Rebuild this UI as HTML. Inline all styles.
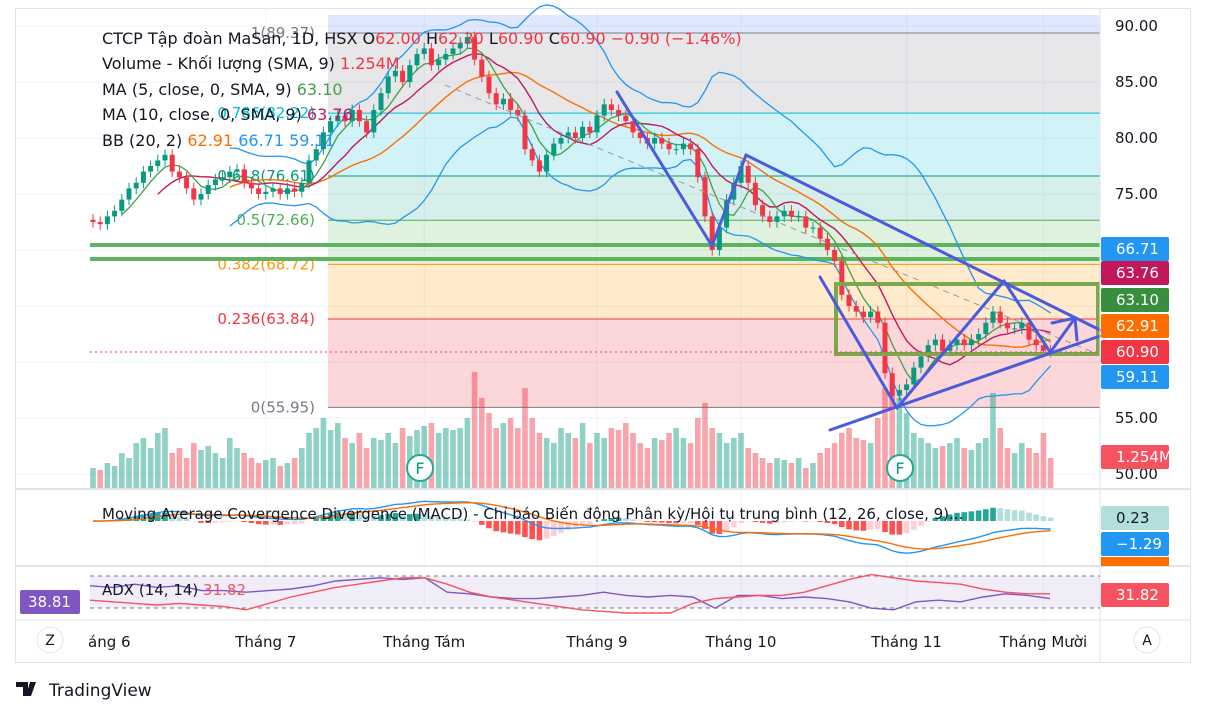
<!DOCTYPE html>
<html><head><meta charset="utf-8">
<style>
body{margin:0;background:#fff;font-family:"DejaVu Sans","Noto Sans CJK SC",sans-serif;}
svg{display:block}
text{font-family:"DejaVu Sans","Noto Sans CJK SC",sans-serif;}
</style></head>
<body>
<svg id="c" width="1205" height="715" viewBox="0 0 1205 715"></svg>
<script>
const closes=[72.5,72.3,73,73.5,74.5,75.5,76,77,77.5,78,78.5,77,76.5,75.5,74.5,75,75.8,76.3,76.5,77,77.2,76,75.5,75,75.2,75.5,75,75.5,75.2,76,78,79,80.5,81.5,82,81.5,82.5,81.5,80.5,82.5,84,85.5,86,85,86.5,87.5,88,86.5,87,87.5,88,88.5,89,87,85.5,84,83,83.5,82.5,82,79,78,77,78.5,79.5,80,80.5,80,81,80.5,82,83,82.5,82,81.5,80.5,80,79.5,80,79.5,79,79,79.5,79,76.5,73,70,72,74.5,76,77.5,76,74,73,72.5,73,73.5,73,73,72,72,71,70,69,66,65,64.5,64,64.5,63.5,59,57,57.5,58,59.5,60.5,61.5,62,61,61.5,62,61.5,62,62.5,63.5,64.5,63.5,63,63,63.5,62,61.5,61,60.9];
const volumes=[20,18,25,22,35,30,45,50,40,55,60,35,40,30,45,38,42,35,30,50,40,35,30,25,28,30,22,25,30,40,55,60,70,58,65,50,45,55,40,50,48,55,45,60,52,58,62,65,55,60,58,60,70,116,90,75,60,65,70,60,100,70,55,50,45,60,55,50,65,45,55,50,60,58,65,55,45,40,50,48,55,60,50,45,70,85,60,55,45,50,55,40,35,30,25,30,28,25,30,20,25,35,40,45,55,60,50,48,45,70,100,95,90,75,55,50,45,40,42,45,50,40,38,45,50,95,60,40,35,45,40,35,55,30];
const months=["Tháng 7","Tháng Tám","Tháng 9","Tháng 10","Tháng 11","Tháng Mười"];
const monthIdx=[24,46,70,90,113,132];
const priceTicks=[90,85,80,75,55,50];
const fibLevels=[89.37,82.22,76.61,72.66,68.72,63.84,55.95];
const fibNames=["1","0.786","0.618","0.5","0.382","0.236","0"];
const adxVals=[28,27,26,25,26,25,24,22,26,30,33,36,38,40,42,42,38,33,30,28,26,24,22,21,20,20,20,26,29,30,31,31,33,37,41,44,42,40,39,38,35,33,32,32];
const diVals=[37,36,38,36,37,34,34,33,34,35,37,40,41,42,41,42,33,32,30,29,29,30,31,33,31,30,31,30,23,31,31,29,30,29,27,23,22,27,28,27,30,32,31,29];

const S=document.getElementById('c');const NS='http://www.w3.org/2000/svg';
function el(t,a,p){const e=document.createElementNS(NS,t);for(const k in a)e.setAttribute(k,a[k]);(p||S).appendChild(e);return e;}
const X=i=>93+7.2*i;
const Y=p=>26+(90-p)*11.2;
const R=1100;
const FS=15, LFS=16;
let f=el('rect',{x:15.5,y:8.5,width:1175,height:654,fill:'#fff',stroke:'#e0e3eb'});

for(const p of [90,85,80,75,70,65,60,55,50]){el('line',{x1:16,x2:R,y1:Y(p),y2:Y(p),stroke:'#f0f3fa'});}
monthIdx.forEach(i=>el('line',{x1:X(i),x2:X(i),y1:9,y2:620,stroke:'#f0f3fa'}));
const fibFill=['rgba(120,123,134,0.18)','rgba(0,188,212,0.18)','rgba(8,153,129,0.16)','rgba(76,175,80,0.18)','rgba(255,152,0,0.2)','rgba(242,54,69,0.2)'];
const fibCol=['#787b86','#00bcd4','#089981','#4caf50','#ff9800','#f23645','#787b86'];
el('rect',{x:328,y:15,width:R-328,height:Y(89.37)-15,fill:'rgba(41,98,255,0.15)'});
for(let k=0;k<6;k++){let b=el('rect',{x:328,y:Y(fibLevels[k]),width:R-328,height:Y(fibLevels[k+1])-Y(fibLevels[k]),fill:fibFill[k]});
}
fibLevels.forEach((v,k)=>{el('line',{x1:328,x2:R,y1:Y(v),y2:Y(v),stroke:fibCol[k],'stroke-width':1});
let t=el('text',{x:315,y:Y(v)+5,'text-anchor':'end','font-size':FS,fill:fibCol[k]});t.textContent=fibNames[k]+'('+v.toFixed(2)+')';
});
el('line',{x1:90,x2:R,y1:245,y2:245,stroke:'#5fb35f','stroke-width':4});
el('line',{x1:90,x2:R,y1:259,y2:259,stroke:'#5fb35f','stroke-width':4});
volumes.forEach((v,i)=>{const up=i==0||closes[i]>=closes[i-1];
let b=el('rect',{x:X(i)-2.8,y:488-v,width:5.6,height:v,fill:up?'rgba(8,153,129,0.45)':'rgba(242,54,69,0.45)'});
});
function sma(a,n){return a.map((_,i)=>i<n-1?null:a.slice(i-n+1,i+1).reduce((s,x)=>s+x,0)/n);}
function ema(a,n){let k=2/(n+1),r=[],e=a[0];a.forEach((x,i)=>{e=i?x*k+e*(1-k):x;r.push(e)});return r;}
const ma5=sma(closes,5),ma10=sma(closes,10),mid=sma(closes,20);
const sd=closes.map((_,i)=>{if(i<19)return null;const s=closes.slice(i-19,i+1),m=mid[i];return Math.sqrt(s.reduce((a,x)=>a+(x-m)**2,0)/20);});
function poly(arr,fy,col,w,name){let pts=[];arr.forEach((v,i)=>{if(v!=null)pts.push(X(i)+','+fy(v))});
let p=el('polyline',{points:pts.join(' '),fill:'none',stroke:col,'stroke-width':w||1.3});return p;}
poly(mid.map((m,i)=>m==null?null:m+2*sd[i]),Y,'#2196f3',1.3,'bb-upper');
poly(mid.map((m,i)=>m==null?null:m-2*sd[i]),Y,'#2196f3',1.3,'bb-lower');
poly(mid,Y,'#ff6d00',1.4,'bb-basis');
poly(ma10,Y,'#c2185b',1.4,'ma10-line');
poly(ma5,Y,'#43a047',1.3,'ma5-line');
closes.forEach((c,i)=>{const o=i?closes[i-1]:c+0.2,up=c>=o,col=up?'#089981':'#f23645';
const hi=Math.max(o,c)+0.5,lo=Math.min(o,c)-0.5;
el('line',{x1:X(i),x2:X(i),y1:Y(hi),y2:Y(lo),stroke:col});
let b=el('rect',{x:X(i)-2.5,y:Y(Math.max(o,c)),width:5,height:Math.max(1,Math.abs(Y(o)-Y(c))),fill:col});
});
el('line',{x1:445,y1:85,x2:1100,y2:355,stroke:'#9598a1','stroke-dasharray':'6 5'});
el('rect',{x:836,y:284,width:262,height:70,fill:'none',stroke:'#7ba84a','stroke-width':4});
el('line',{x1:90,x2:R,y1:352,y2:352,stroke:'#f23645','stroke-dasharray':'2 3'});
const B='#4a5bdc';
[[617,92,712,246],[712,246,746,155],[746,155,1100,330],[820,277,897,408],[897,408,1004,281],[1004,281,1050,352],[830,430,1100,336],[1052,350,1075,318],[1052,323,1075,318],[1075,318,1077,340]].forEach((s,k)=>{
let l=el('line',{x1:s[0],y1:s[1],x2:s[2],y2:s[3],stroke:B,'stroke-width':3,'stroke-linecap':'round'});
});
[420,900].forEach(x=>{let g=el('g',{});
el('circle',{cx:x,cy:468,r:13,fill:'#fff',stroke:'#22ab94','stroke-width':2},g);
let t=el('text',{x:x,y:474,'text-anchor':'middle','font-size':16,fill:'#089981'},g);t.textContent='F';});
el('line',{x1:16,x2:1190,y1:489,y2:489,stroke:'#e0e3eb','stroke-width':2});
el('line',{x1:16,x2:1190,y1:566,y2:566,stroke:'#e0e3eb','stroke-width':2});
el('line',{x1:16,x2:1190,y1:620,y2:620,stroke:'#e0e3eb'});
el('line',{x1:R,x2:R,y1:9,y2:662,stroke:'#e0e3eb'});
const e12=ema(closes,12),e26=ema(closes,26),macd=e12.map((v,i)=>v-e26[i]),sig=ema(macd,9);
const MY=v=>521-v*7, HY=v=>521-v*14;
macd.forEach((v,i)=>{const h=v-sig[i];const up=h>=0,rising=i&&Math.abs(h)>Math.abs(macd[i-1]-sig[i-1]);
const col=up?(rising?'#26a69a':'#b2dfdb'):(rising?'#ff5252':'#ffcdd2');
const hy=Math.min(564,Math.max(492,HY(h)));
let b=el('rect',{x:X(i)-2.8,y:Math.min(hy,HY(0)),width:5.6,height:Math.abs(hy-HY(0)),fill:col});
});
poly(macd,v=>Math.min(564,Math.max(492,MY(v))),'#2196f3',1.4,'macd-line');
poly(sig,v=>Math.min(564,Math.max(492,MY(v))),'#ff6d00',1.4,'signal-line');
el('rect',{x:90,y:576,width:R-90,height:32,fill:'rgba(126,87,194,0.1)'});
el('line',{x1:90,x2:R,y1:576,y2:576,stroke:'#787b86','stroke-dasharray':'4 4'});
el('line',{x1:90,x2:R,y1:608,y2:608,stroke:'#787b86','stroke-dasharray':'4 4'});
const AY=v=>645-v*1.6,AX=i=>90+i*(1050-90)/(adxVals.length-1);
function apoly(a,col,name){let p=el('polyline',{points:a.map((v,i)=>AX(i)+','+AY(v)).join(' '),fill:'none',stroke:col,'stroke-width':1.4});}
apoly(diVals,'#7e57c2','di-line');apoly(adxVals,'#f7525f','adx-line');
function txt(x,y,s,col,size,anchor,name){let t=el('text',{x:x,y:y,'font-size':size||FS,fill:col||'#131722','text-anchor':anchor||'start'});t.textContent=s;
return t;}
function leg(y,parts,name){let t=el('text',{x:102,y:y,'font-size':LFS});
parts.forEach(p=>{let s=el('tspan',{fill:p[1]},t);s.textContent=p[0];});}
leg(44,[['CTCP Tập đoàn MaSan, 1D, HSX  O','#131722'],['62.00','#f23645'],['  H','#131722'],['62.30','#f23645'],['  L','#131722'],['60.90','#f23645'],['  C','#131722'],['60.90  −0.90 (−1.46%)','#f23645']],'legend-title');
leg(69,[['Volume - Khối lượng (SMA, 9)  ','#131722'],['1.254M','#f23645']],'legend-volume');
leg(95,[['MA (5, close, 0, SMA, 9)  ','#131722'],['63.10','#43a047']],'legend-ma5');
leg(120,[['MA (10, close, 0, SMA, 9)  ','#131722'],['63.76','#c2185b']],'legend-ma10');
leg(146,[['BB (20, 2)  ','#131722'],['62.91','#ff6d00'],['  66.71  59.11','#2196f3']],'legend-bb');
txt(102,519,'Moving Average Covergence Divergence (MACD) - Chỉ báo Biến động Phân kỳ/Hội tụ trung bình (12, 26, close, 9)...','#131722',FS,'start','macd-legend');
let al=el('text',{x:102,y:595,'font-size':FS});
el('tspan',{fill:'#131722'},al).textContent='ADX (14, 14)  ';el('tspan',{fill:'#f7525f'},al).textContent='31.82';
priceTicks.forEach(p=>txt(1115,Y(p)+5,p.toFixed(2),'#131722',FS,'start','price-tick'));
function badge(y,s,bg,fg,name){let g=el('g',{});
el('rect',{x:1101,y:y-12,width:68,height:24,rx:2,fill:bg},g);let t=el('text',{x:1116,y:y+5,'font-size':FS,fill:fg},g);t.textContent=s;}
badge(249,'66.71','#2196f3','#fff','bb-upper-badge');
badge(273,'63.76','#c2185b','#fff','ma10-badge');
badge(300,'63.10','#388e3c','#fff','ma5-badge');
badge(326,'62.91','#ff6d00','#fff','bb-basis-badge');
badge(352,'60.90','#f23645','#fff','price-badge');
badge(377,'59.11','#2196f3','#fff','bb-lower-badge');
badge(457,'1.254M','#f7525f','#fff','volume-badge');
badge(518,'0.23','#b2dfdb','#131722','macd-hist-badge');
badge(544,'−1.29','#2196f3','#fff','macd-badge');
el('rect',{x:1101,y:557,width:68,height:9,fill:'#ff6d00'});
badge(595,'31.82','#f7525f','#fff','adx-badge');
let lb=el('g',{});
el('rect',{x:20,y:590,width:60,height:24,rx:2,fill:'#7e57c2'},lb);
let lt=el('text',{x:28,y:607,'font-size':FS,fill:'#fff'},lb);lt.textContent='38.81';
months.forEach((m,k)=>txt(X(monthIdx[k]),647,m,'#131722',FS,'middle','month-label'));
el('rect',{x:1100.5,y:626,width:89,height:34,fill:'#fff'});
txt(88,647,'áng 6','#131722',FS,'start','month-label');
[[50,'Z'],[1147,'A']].forEach(a=>{let g=el('g',{});
el('circle',{cx:a[0],cy:640,r:13,fill:'#fff',stroke:'#e0e3eb'},g);let t=el('text',{x:a[0],y:645,'text-anchor':'middle','font-size':14,fill:'#131722'},g);t.textContent=a[1];});
let lg=el('g',{});
el('path',{d:'M16 682h12v14h-5v-9h-7z M30 682h6l-5 14h-5z',fill:'#131722'},lg);
let tl=el('text',{x:49,y:696,'font-size':17,fill:'#131722'},lg);tl.textContent='TradingView';
</script>
</body></html>
